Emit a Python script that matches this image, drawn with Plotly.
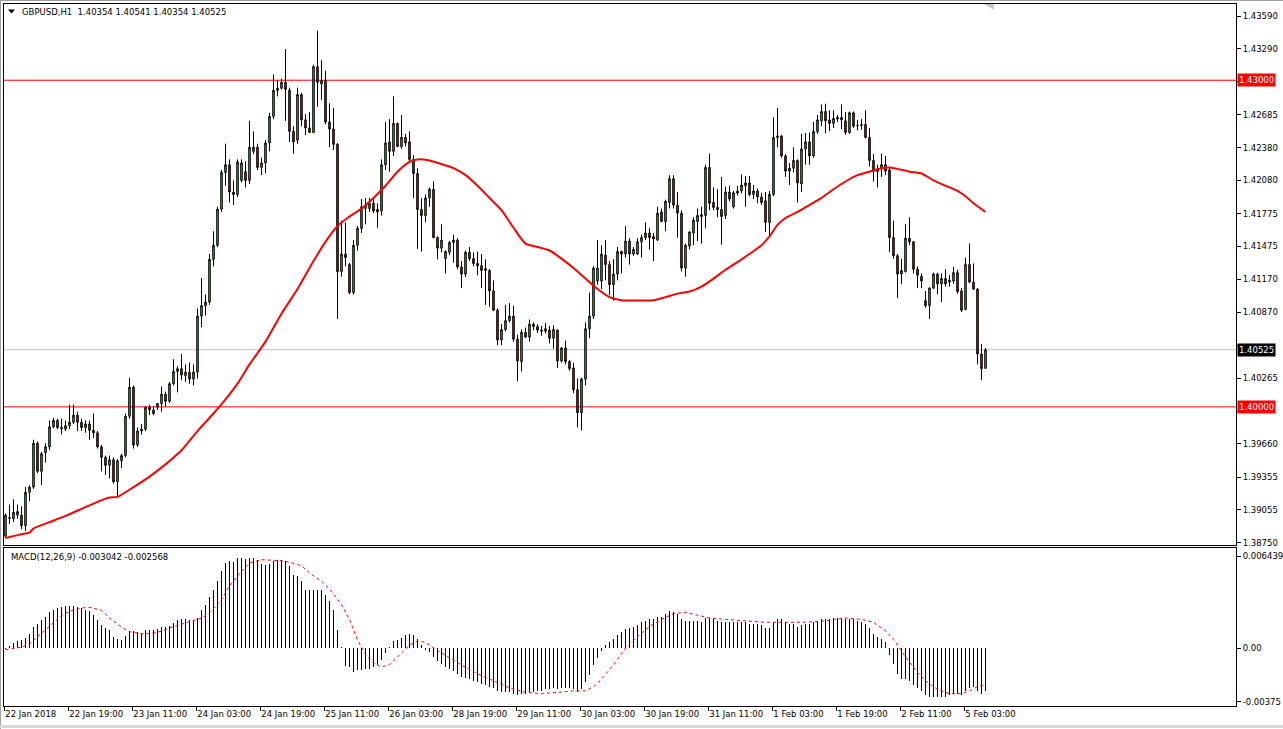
import plotly.graph_objects as go

# ---------------- data ----------------
x_labels = ["22 Jan 2018", "22 Jan 19:00", "23 Jan 11:00", "24 Jan 03:00", "24 Jan 19:00",
            "25 Jan 11:00", "26 Jan 03:00", "28 Jan 19:00", "29 Jan 11:00", "30 Jan 03:00",
            "30 Jan 19:00", "31 Jan 11:00", "1 Feb 03:00", "1 Feb 19:00", "2 Feb 11:00",
            "5 Feb 03:00"]
x_label_bars = [0, 16, 32, 48, 64, 80, 96, 112, 128, 144, 160, 176, 192, 208, 224, 240]

opens = [1.38812, 1.38975, 1.38973, 1.39006, 1.39006, 1.38909, 1.39215, 1.39263, 1.39666, 1.39408,
         1.39579, 1.39633, 1.39817, 1.39875, 1.39811, 1.39795, 1.39827, 1.39859, 1.39923, 1.39859,
         1.39811, 1.39843, 1.39785, 1.39762, 1.39633, 1.39537, 1.39463, 1.39514, 1.39312, 1.39505,
         1.39553, 1.39914, 1.40181, 1.39650, 1.39778, 1.39795, 1.39997, 1.39972, 1.39997, 1.40030,
         1.40117, 1.40052, 1.40213, 1.40325, 1.40351, 1.40287, 1.40319, 1.40255, 1.40319, 1.40834,
         1.40930, 1.40963, 1.41355, 1.41484, 1.41816, 1.42153, 1.42224, 1.41973, 1.41951, 1.42080,
         1.42160, 1.42080, 1.42347, 1.42385, 1.42199, 1.42240, 1.42424, 1.42668, 1.42907, 1.42926,
         1.42981, 1.42907, 1.42530, 1.42450, 1.42868, 1.42636, 1.42562, 1.42520, 1.43125, 1.42965,
         1.42997, 1.42617, 1.42553, 1.42411, 1.41243, 1.41404, 1.41307, 1.41050, 1.41484, 1.41639,
         1.41822, 1.41822, 1.41870, 1.41813, 1.41800, 1.42224, 1.42434, 1.42347, 1.42604, 1.42392,
         1.42475, 1.42434, 1.42273, 1.42144, 1.41813, 1.41758, 1.41919, 1.41999, 1.41555, 1.41458,
         1.41362, 1.41420, 1.41510, 1.41532, 1.41285, 1.41220, 1.41420, 1.41362, 1.41317, 1.41297,
         1.41252, 1.41252, 1.41065, 1.40888, 1.40615, 1.40711, 1.40792, 1.40834, 1.40622, 1.40416,
         1.40685, 1.40641, 1.40737, 1.40737, 1.40705, 1.40695, 1.40705, 1.40631, 1.40705, 1.40422,
         1.40541, 1.40416, 1.40357, 1.40158, 1.39946, 1.40255, 1.40718, 1.40834, 1.41156, 1.41156,
         1.41394, 1.41307, 1.41123, 1.41220, 1.41426, 1.41404, 1.41523, 1.41404, 1.41404, 1.41516,
         1.41555, 1.41597, 1.41565, 1.41532, 1.41790, 1.41703, 1.41877, 1.42096, 1.41854, 1.41780,
         1.41275, 1.41478, 1.41597, 1.41703, 1.41748, 1.41758, 1.42199, 1.41877, 1.41832, 1.41813,
         1.41758, 1.41973, 1.41838, 1.41964, 1.41983, 1.42031, 1.42057, 1.41951, 1.41983, 1.41928,
         1.41893, 1.41694, 1.41951, 1.42475, 1.42488, 1.42305, 1.42166, 1.42192, 1.42263, 1.42047,
         1.42369, 1.42434, 1.42305, 1.42530, 1.42627, 1.42713, 1.42636, 1.42604, 1.42643, 1.42659,
         1.42627, 1.42520, 1.42701, 1.42585, 1.42585, 1.42594, 1.42475, 1.42263, 1.42160, 1.42186,
         1.42224, 1.42176, 1.41555, 1.41388, 1.41220, 1.41243, 1.41549, 1.41516, 1.41265, 1.41200,
         1.40976, 1.40930, 1.41091, 1.41220, 1.41130, 1.41178, 1.41146, 1.41156, 1.41233, 1.41065,
         1.40895, 1.41307, 1.41146, 1.41082, 1.40486, 1.40354]

highs = [1.39022, 1.39102, 1.39151, 1.39102, 1.39086, 1.39263, 1.39279, 1.39698, 1.39682, 1.39585,
         1.39666, 1.39875, 1.39900, 1.39891, 1.39891, 1.39875, 1.40020, 1.40020, 1.39955, 1.39891,
         1.39875, 1.39875, 1.39939, 1.39778, 1.39650, 1.39553, 1.39553, 1.39537, 1.39521, 1.39569,
         1.39939, 1.40268, 1.40197, 1.39811, 1.39843, 1.40004, 1.40020, 1.40004, 1.40036, 1.40187,
         1.40139, 1.40229, 1.40438, 1.40373, 1.40486, 1.40390, 1.40406, 1.40390, 1.40905, 1.41184,
         1.41033, 1.41404, 1.41613, 1.41838, 1.42176, 1.42417, 1.42273, 1.42080, 1.42273, 1.42273,
         1.42256, 1.42627, 1.42530, 1.42417, 1.42289, 1.42450, 1.42701, 1.43055, 1.42997, 1.43013,
         1.43286, 1.42932, 1.42578, 1.42932, 1.42884, 1.42691, 1.42707, 1.43142, 1.43454, 1.43183,
         1.43087, 1.42788, 1.42746, 1.42424, 1.41710, 1.41694, 1.41323, 1.41532, 1.41661, 1.41909,
         1.41919, 1.41919, 1.41909, 1.41870, 1.42273, 1.42617, 1.42643, 1.42852, 1.42610, 1.42681,
         1.42507, 1.42530, 1.42314, 1.42192, 1.41919, 1.41951, 1.42015, 1.42070, 1.41565, 1.41677,
         1.41436, 1.41523, 1.41581, 1.41549, 1.41339, 1.41436, 1.41468, 1.41420, 1.41426, 1.41404,
         1.41355, 1.41265, 1.41162, 1.40904, 1.40760, 1.40937, 1.40953, 1.40930, 1.40663, 1.40711,
         1.40728, 1.40802, 1.40776, 1.40760, 1.40744, 1.40769, 1.40744, 1.40750, 1.40711, 1.40550,
         1.40609, 1.40429, 1.40406, 1.40261, 1.40268, 1.40776, 1.41050, 1.41291, 1.41532, 1.41484,
         1.41532, 1.41339, 1.41355, 1.41468, 1.41436, 1.41661, 1.41549, 1.41468, 1.41549, 1.41581,
         1.41694, 1.41645, 1.41597, 1.41838, 1.41822, 1.41903, 1.42128, 1.42128, 1.41973, 1.41806,
         1.41500, 1.41613, 1.41742, 1.41822, 1.41838, 1.42224, 1.42327, 1.42015, 1.41999, 1.42112,
         1.42024, 1.42031, 1.41983, 1.42031, 1.42134, 1.42121, 1.42121, 1.42037, 1.42005, 1.41967,
         1.41973, 1.41983, 1.42659, 1.42746, 1.42498, 1.42321, 1.42240, 1.42385, 1.42273, 1.42507,
         1.42514, 1.42520, 1.42617, 1.42681, 1.42778, 1.42784, 1.42723, 1.42723, 1.42681, 1.42778,
         1.42707, 1.42713, 1.42713, 1.42636, 1.42643, 1.42723, 1.42562, 1.42321, 1.42224, 1.42327,
         1.42305, 1.42199, 1.41710, 1.41404, 1.41362, 1.41677, 1.41742, 1.41523, 1.41291, 1.41226,
         1.41065, 1.41098, 1.41233, 1.41233, 1.41226, 1.41265, 1.41210, 1.41285, 1.41259, 1.41091,
         1.41372, 1.41500, 1.41317, 1.41091, 1.40576, 1.40541]

lows = [1.38796, 1.38925, 1.38941, 1.38973, 1.38877, 1.38861, 1.39134, 1.39247, 1.39392, 1.39279,
        1.39488, 1.39601, 1.39804, 1.39795, 1.39746, 1.39778, 1.39795, 1.39843, 1.39778, 1.39778,
        1.39762, 1.39698, 1.39714, 1.39617, 1.39408, 1.39376, 1.39344, 1.39295, 1.39183, 1.39440,
        1.39537, 1.39891, 1.39617, 1.39633, 1.39746, 1.39778, 1.39923, 1.39923, 1.39972, 1.39955,
        1.40004, 1.40036, 1.40197, 1.40133, 1.40245, 1.40229, 1.40213, 1.40197, 1.40261, 1.40731,
        1.40840, 1.40937, 1.41291, 1.41468, 1.41790, 1.42031, 1.41877, 1.41854, 1.41928, 1.42063,
        1.42015, 1.42047, 1.42321, 1.42176, 1.42128, 1.42144, 1.42347, 1.42643, 1.42852, 1.42916,
        1.42627, 1.42434, 1.42327, 1.42417, 1.42578, 1.42498, 1.42514, 1.42514, 1.42755, 1.42820,
        1.42594, 1.42385, 1.42359, 1.40808, 1.41194, 1.41291, 1.41033, 1.41033, 1.41436, 1.41597,
        1.41677, 1.41790, 1.41780, 1.41645, 1.41758, 1.42176, 1.42160, 1.42305, 1.42385, 1.42369,
        1.42392, 1.42256, 1.41919, 1.41452, 1.41426, 1.41694, 1.41838, 1.41549, 1.41355, 1.41420,
        1.41226, 1.41394, 1.41323, 1.41265, 1.41091, 1.41194, 1.41339, 1.41291, 1.41210, 1.41091,
        1.40937, 1.40921, 1.40879, 1.40566, 1.40566, 1.40695, 1.40776, 1.40599, 1.40236, 1.40325,
        1.40631, 1.40599, 1.40705, 1.40679, 1.40654, 1.40673, 1.40583, 1.40534, 1.40357, 1.40406,
        1.40390, 1.40332, 1.40126, 1.39811, 1.39785, 1.40197, 1.40631, 1.40808, 1.41123, 1.41082,
        1.41162, 1.41027, 1.40976, 1.41162, 1.41226, 1.41372, 1.41307, 1.41388, 1.41394, 1.41372,
        1.41532, 1.41446, 1.41339, 1.41523, 1.41694, 1.41613, 1.41822, 1.41822, 1.41555, 1.41243,
        1.41194, 1.41446, 1.41484, 1.41523, 1.41500, 1.41639, 1.41806, 1.41806, 1.41742, 1.41490,
        1.41726, 1.41887, 1.41822, 1.41941, 1.41961, 1.41838, 1.41935, 1.41909, 1.41870, 1.41854,
        1.41606, 1.41565, 1.41935, 1.42385, 1.42289, 1.42112, 1.42037, 1.42153, 1.41877, 1.41973,
        1.42224, 1.42224, 1.42289, 1.42507, 1.42578, 1.42514, 1.42530, 1.42562, 1.42617, 1.42553,
        1.42498, 1.42507, 1.42562, 1.42540, 1.42546, 1.42466, 1.42208, 1.42070, 1.42015, 1.42112,
        1.42128, 1.41420, 1.41362, 1.40999, 1.41130, 1.41233, 1.41484, 1.41226, 1.41091, 1.41091,
        1.40911, 1.40808, 1.41082, 1.41033, 1.40963, 1.41104, 1.41104, 1.41130, 1.41040, 1.40872,
        1.40888, 1.41137, 1.41072, 1.40390, 1.40245, 1.40354]

closes = [1.39006, 1.38985, 1.39031, 1.39038, 1.38909, 1.39215, 1.39263, 1.39666, 1.39408, 1.39569,
          1.39633, 1.39817, 1.39875, 1.39811, 1.39800, 1.39827, 1.39859, 1.39923, 1.39859, 1.39811,
          1.39843, 1.39785, 1.39762, 1.39633, 1.39537, 1.39463, 1.39514, 1.39312, 1.39505, 1.39553,
          1.39914, 1.40181, 1.39650, 1.39778, 1.39795, 1.39997, 1.39972, 1.39939, 1.40030, 1.40117,
          1.40052, 1.40213, 1.40325, 1.40351, 1.40293, 1.40319, 1.40255, 1.40319, 1.40834, 1.40930,
          1.40963, 1.41355, 1.41484, 1.41816, 1.42153, 1.42224, 1.41973, 1.41951, 1.42250, 1.42240,
          1.42080, 1.42385, 1.42385, 1.42199, 1.42240, 1.42424, 1.42668, 1.42907, 1.42926, 1.42981,
          1.42916, 1.42530, 1.42434, 1.42868, 1.42636, 1.42562, 1.42520, 1.43125, 1.42981, 1.42997,
          1.42617, 1.42553, 1.42411, 1.41243, 1.41404, 1.41372, 1.41050, 1.41484, 1.41639, 1.41838,
          1.41854, 1.41870, 1.41800, 1.41790, 1.42224, 1.42424, 1.42347, 1.42604, 1.42392, 1.42475,
          1.42424, 1.42273, 1.42144, 1.41813, 1.41758, 1.41919, 1.41999, 1.41555, 1.41458, 1.41532,
          1.41426, 1.41510, 1.41532, 1.41285, 1.41220, 1.41420, 1.41362, 1.41317, 1.41297, 1.41252,
          1.41270, 1.41065, 1.40888, 1.40615, 1.40711, 1.40792, 1.40834, 1.40622, 1.40422, 1.40685,
          1.40641, 1.40760, 1.40760, 1.40705, 1.40695, 1.40718, 1.40631, 1.40711, 1.40422, 1.40541,
          1.40416, 1.40351, 1.40158, 1.39946, 1.40255, 1.40718, 1.40834, 1.41275, 1.41275, 1.41404,
          1.41307, 1.41123, 1.41220, 1.41426, 1.41404, 1.41523, 1.41404, 1.41446, 1.41516, 1.41555,
          1.41597, 1.41555, 1.41542, 1.41780, 1.41703, 1.41887, 1.42096, 1.41854, 1.41780, 1.41275,
          1.41484, 1.41606, 1.41716, 1.41758, 1.41767, 1.42199, 1.41870, 1.41832, 1.41813, 1.41748,
          1.41973, 1.41909, 1.41967, 1.41983, 1.42037, 1.42057, 1.41951, 1.41983, 1.41928, 1.41877,
          1.41694, 1.41951, 1.42475, 1.42488, 1.42305, 1.42166, 1.42192, 1.42263, 1.42057, 1.42369,
          1.42434, 1.42305, 1.42530, 1.42636, 1.42713, 1.42627, 1.42604, 1.42649, 1.42659, 1.42636,
          1.42520, 1.42701, 1.42578, 1.42582, 1.42594, 1.42475, 1.42263, 1.42166, 1.42186, 1.42224,
          1.42166, 1.41555, 1.41388, 1.41220, 1.41252, 1.41549, 1.41516, 1.41265, 1.41210, 1.41156,
          1.40930, 1.41091, 1.41220, 1.41130, 1.41178, 1.41130, 1.41162, 1.41233, 1.41059, 1.40888,
          1.41307, 1.41146, 1.41082, 1.40486, 1.40351, 1.40525]

# moving average (red line), sampled at these bars
ma_bars = [0, 3, 5, 6, 7, 11, 15, 19, 23, 26, 28, 32, 36, 40, 44, 48, 52, 55, 58, 61, 65, 69, 73,
           77, 80, 83, 86, 89, 92, 95, 98, 101, 103, 106, 109, 112, 115, 118, 121, 124, 127, 130,
           133, 136, 139, 142, 145, 148, 151, 154, 158, 162, 165, 168, 171, 174, 177, 180, 183,
           186, 189, 191, 193, 195, 198, 201, 204, 207, 210, 213, 216, 219, 221, 223, 226, 229,
           232, 235, 238, 240, 242, 245]
ma_values = [1.38796, 1.38822, 1.38838, 1.38845, 1.38883, 1.38941, 1.38999, 1.39063, 1.39128,
             1.39167, 1.39173, 1.39263, 1.39360, 1.39472, 1.39601, 1.39778, 1.39939, 1.40068,
             1.40213, 1.40390, 1.40599, 1.40856, 1.41082, 1.41339, 1.41516, 1.41661, 1.41748,
             1.41822, 1.41919, 1.42031, 1.42160, 1.42250, 1.42273, 1.42263, 1.42231, 1.42192,
             1.42128, 1.42031, 1.41919, 1.41806, 1.41645, 1.41500, 1.41468, 1.41436, 1.41362,
             1.41275, 1.41178, 1.41082, 1.41008, 1.40979, 1.40976, 1.40979, 1.41008, 1.41040,
             1.41059, 1.41104, 1.41178, 1.41259, 1.41330, 1.41404, 1.41484, 1.41565, 1.41671,
             1.41735, 1.41790, 1.41854, 1.41919, 1.41999, 1.42070, 1.42128, 1.42160, 1.42192,
             1.42199, 1.42186, 1.42160, 1.42144, 1.42080, 1.42031, 1.41983, 1.41935, 1.41870,
             1.41790]

macd_hist = [-0.00005, 0.00016, 0.00035, 0.00051, 0.00054, 0.00070, 0.00100, 0.00147, 0.00170, 0.00194,
             0.00217, 0.00250, 0.00268, 0.00280, 0.00287, 0.00292, 0.00296, 0.00296, 0.00287, 0.00280,
             0.00268, 0.00257, 0.00233, 0.00198, 0.00163, 0.00140, 0.00124, 0.00077, 0.00063, 0.00058,
             0.00086, 0.00117, 0.00117, 0.00110, 0.00105, 0.00124, 0.00128, 0.00128, 0.00133, 0.00147,
             0.00147, 0.00156, 0.00175, 0.00194, 0.00203, 0.00203, 0.00198, 0.00198, 0.00210, 0.00268,
             0.00303, 0.00357, 0.00408, 0.00467, 0.00537, 0.00595, 0.00607, 0.00600, 0.00630, 0.00630,
             0.00623, 0.00630, 0.00630, 0.00618, 0.00590, 0.00583, 0.00590, 0.00607, 0.00614, 0.00614,
             0.00607, 0.00572, 0.00513, 0.00502, 0.00467, 0.00408, 0.00408, 0.00408, 0.00408, 0.00408,
             0.00373, 0.00327, 0.00268, 0.00128, 0.00002, -0.00128, -0.00133, -0.00170, -0.00156, -0.00152,
             -0.00147, -0.00147, -0.00133, -0.00117, -0.00082, -0.00035, 0.00002, 0.00047, 0.00058, 0.00070,
             0.00090, 0.00100, 0.00090, 0.00060, 0.00020, -0.00010, -0.00030, -0.00060, -0.00090, -0.00110,
             -0.00130, -0.00150, -0.00160, -0.00180, -0.00200, -0.00210, -0.00220, -0.00230, -0.00240, -0.00250,
             -0.00260, -0.00270, -0.00280, -0.00300, -0.00310, -0.00310, -0.00310, -0.00320, -0.00330, -0.00320,
             -0.00320, -0.00310, -0.00310, -0.00300, -0.00300, -0.00290, -0.00290, -0.00280, -0.00290, -0.00280,
             -0.00280, -0.00280, -0.00290, -0.00310, -0.00290, -0.00240, -0.00190, -0.00120, -0.00070, -0.00020,
             0.00020, 0.00040, 0.00060, 0.00090, 0.00110, 0.00130, 0.00140, 0.00150, 0.00160, 0.00180,
             0.00190, 0.00200, 0.00200, 0.00220, 0.00220, 0.00240, 0.00260, 0.00250, 0.00240, 0.00200,
             0.00190, 0.00190, 0.00190, 0.00190, 0.00180, 0.00210, 0.00210, 0.00200, 0.00190, 0.00180,
             0.00180, 0.00180, 0.00180, 0.00180, 0.00180, 0.00180, 0.00170, 0.00170, 0.00170, 0.00160,
             0.00140, 0.00140, 0.00180, 0.00200, 0.00200, 0.00180, 0.00170, 0.00170, 0.00150, 0.00160,
             0.00170, 0.00170, 0.00180, 0.00190, 0.00200, 0.00200, 0.00200, 0.00210, 0.00210, 0.00210,
             0.00200, 0.00200, 0.00200, 0.00190, 0.00180, 0.00170, 0.00140, 0.00100, 0.00080, 0.00060,
             0.00040, -0.00050, -0.00110, -0.00180, -0.00220, -0.00220, -0.00230, -0.00260, -0.00280, -0.00300,
             -0.00330, -0.00340, -0.00340, -0.00340, -0.00340, -0.00340, -0.00330, -0.00320, -0.00320, -0.00330,
             -0.00300, -0.00280, -0.00270, -0.00300, -0.00320, -0.003042]

signal_bars = [0, 4, 6, 9, 11, 14, 16, 19, 21, 24, 26, 29, 31, 34, 36, 39, 41, 44, 46, 49, 51, 54,
               56, 59, 61, 64, 66, 69, 71, 74, 76, 79, 81, 84, 86, 88, 90, 92, 94, 96, 98, 101,
               103, 105, 107, 110, 114, 118, 122, 126, 130, 134, 138, 142, 145, 147, 149, 151,
               153, 155, 158, 161, 164, 167, 170, 173, 176, 180, 185, 190, 195, 200, 205, 210,
               214, 217, 220, 222, 224, 226, 228, 230, 233, 236, 239, 241, 243, 245]
signal_values = [-0.00012, 0.00005, 0.00030, 0.00105, 0.00156, 0.00226, 0.00257, 0.00280, 0.00285,
                 0.00264, 0.00210, 0.00147, 0.00114, 0.00100, 0.00100, 0.00117, 0.00140, 0.00168,
                 0.00184, 0.00208, 0.00245, 0.00338, 0.00436, 0.00537, 0.00595, 0.00618, 0.00614,
                 0.00611, 0.00600, 0.00576, 0.00525, 0.00467, 0.00413, 0.00303, 0.00198, 0.00058,
                 -0.00047, -0.00105, -0.00133, -0.00117, -0.00063, 0.00020, 0.00050, 0.00040,
                 0.00000, -0.00050, -0.00120, -0.00180, -0.00230, -0.00280, -0.00310, -0.00320,
                 -0.00310, -0.00300, -0.00300, -0.00270, -0.00220, -0.00150, -0.00080, 0.00000,
                 0.00080, 0.00150, 0.00200, 0.00240, 0.00250, 0.00230, 0.00210, 0.00200, 0.00190,
                 0.00180, 0.00180, 0.00180, 0.00190, 0.00210, 0.00200, 0.00180, 0.00120, 0.00060,
                 -0.00020, -0.00100, -0.00170, -0.00230, -0.00290, -0.00320, -0.00320, -0.00300,
                 -0.00270, -0.002568]

main_ticks = [1.43590, 1.43290, 1.42985, 1.42685, 1.42380, 1.42080, 1.41775, 1.41475, 1.41170,
              1.40870, 1.40565, 1.40265, 1.39960, 1.39660, 1.39355, 1.39055, 1.38750]
hidden_ticks = [1.42985, 1.40565, 1.39960]   # covered by the price labels in the picture
macd_ticks = [0.006439, 0.0, -0.00375]
macd_tick_text = ["0.006439", "0.00", "-0.00375"]
level_lines = [1.43000, 1.40000]
bid_price = 1.40525

# ---------------- layout geometry ----------------
W, H = 1283, 729
L, R, T, B = 4, 47, 4, 23
PW, PH = W - L - R, H - T - B


def px(xp):
    return (xp - L) / PW


def py(yp):
    return (H - B - yp) / PH


FONT = "DejaVu Sans"
FS = 8.5
bars_idx = list(range(len(closes)))

fig = go.Figure()

fig.add_trace(go.Candlestick(
    x=bars_idx, open=opens, high=highs, low=lows, close=closes,
    xaxis="x2", yaxis="y",
    increasing=dict(line=dict(color="black", width=1), fillcolor="#32CD32"),
    decreasing=dict(line=dict(color="black", width=1), fillcolor="#FF0000"),
    whiskerwidth=0, showlegend=False, hoverinfo="skip"))

fig.add_trace(go.Scatter(x=ma_bars, y=ma_values, xaxis="x2", yaxis="y", mode="lines",
                         line=dict(color="#FF0000", width=2, shape="spline", smoothing=0.6),
                         showlegend=False, hoverinfo="skip"))

fig.add_trace(go.Bar(x=bars_idx, y=macd_hist, xaxis="x", yaxis="y2", width=0.25,
                     marker=dict(color="black", line=dict(width=0)), showlegend=False,
                     hoverinfo="skip"))
fig.add_trace(go.Scatter(x=signal_bars, y=signal_values, xaxis="x", yaxis="y2", mode="lines",
                         line=dict(color="#FF0000", width=1, dash="dot"), showlegend=False,
                         hoverinfo="skip"))

# bar i centred on pixel column 5.5 + 4 i
xr = [(L - 5.5) / 4.0, (W - R - 5.5) / 4.0]
main_top, main_bot = 4, 545
macd_top, macd_bot = 548, 706

shapes = []
for lv in level_lines:
    shapes.append(dict(type="line", xref="x2 domain", x0=0, x1=1, yref="y", y0=lv, y1=lv,
                       line=dict(color="#FF0000", width=1), layer="below"))
shapes.append(dict(type="line", xref="x2 domain", x0=0, x1=1, yref="y", y0=bid_price, y1=bid_price,
                   line=dict(color="#C0C0C0", width=1), layer="below"))
# title triangle
shapes.append(dict(type="path", xref="paper", yref="paper",
                   path=f"M {px(8)} {py(9.5)} L {px(15)} {py(9.5)} L {px(11.5)} {py(13.5)} Z",
                   fillcolor="black", line=dict(width=0)))
# chart shift marker
shapes.append(dict(type="path", xref="paper", yref="paper",
                   path=f"M {px(984)} {py(4)} L {px(994)} {py(4)} L {px(994)} {py(10)} Z",
                   fillcolor="#C8C8C8", line=dict(width=0)))
# window frame
shapes.append(dict(type="line", xref="paper", yref="paper", x0=px(0.5), x1=px(0.5), y0=py(0), y1=py(729),
                   line=dict(color="#A0A0A0", width=1)))
shapes.append(dict(type="line", xref="paper", yref="paper", x0=px(0), x1=px(1283), y0=py(0.5), y1=py(0.5),
                   line=dict(color="#A0A0A0", width=1)))
shapes.append(dict(type="line", xref="paper", yref="paper", x0=px(0), x1=px(1283), y0=py(726.5), y1=py(726.5),
                   line=dict(color="#D8D8D8", width=3)))

annotations = [
    dict(text="GBPUSD,H1  1.40354 1.40541 1.40354 1.40525", xref="paper", yref="paper",
         x=px(20), y=py(12), xanchor="left", yanchor="middle", showarrow=False,
         font=dict(family=FONT, size=FS, color="black")),
    dict(text="MACD(12,26,9) -0.003042 -0.002568", xref="paper", yref="paper",
         x=px(9), y=py(557), xanchor="left", yanchor="middle", showarrow=False,
         font=dict(family=FONT, size=FS, color="black")),
]
for lv, bg in [(level_lines[0], "#FF0000"), (level_lines[1], "#FF0000"), (bid_price, "black")]:
    annotations.append(dict(text=f"{lv:.5f}", xref="paper", yref="y", x=1, y=lv, xanchor="left",
                            yanchor="middle", xshift=1, showarrow=False, bgcolor=bg,
                            borderpad=1, font=dict(family=FONT, size=FS, color="white")))

fig.update_layout(
    width=W, height=H, margin=dict(l=L, r=R, t=T, b=B, autoexpand=False),
    paper_bgcolor="white", plot_bgcolor="white",
    boxgap=0.45, bargap=0, showlegend=False,
    shapes=shapes, annotations=annotations,
    xaxis=dict(domain=[0, 1], anchor="y2", range=xr, showgrid=False, zeroline=False,
               showline=True, mirror=True, linecolor="black", linewidth=1,
               tickmode="array", tickvals=[b - 0.3 for b in x_label_bars], ticktext=x_labels,
               ticks="outside", ticklen=4, tickcolor="black", ticklabelposition="outside right",
               tickfont=dict(family=FONT, size=FS, color="black"), fixedrange=True),
    xaxis2=dict(domain=[0, 1], anchor="y", matches="x", showgrid=False, zeroline=False,
                showline=True, mirror=True, linecolor="black", linewidth=1,
                showticklabels=False, ticks="", rangeslider=dict(visible=False)),
    yaxis=dict(domain=[py(main_bot), py(main_top)], anchor="x2", side="right",
               range=[1.43590 - (main_bot - 16) / 10888.0, 1.43590 + (16 - main_top) / 10888.0],
               showgrid=False, zeroline=False, showline=True, mirror=True, linecolor="black",
               linewidth=1, tickmode="array", tickvals=main_ticks,
               ticktext=["" if v in hidden_ticks else f"{v:.5f}" for v in main_ticks],
               ticks="outside", ticklen=4,
               tickcolor="black", tickfont=dict(family=FONT, size=FS, color="black")),
    yaxis2=dict(domain=[py(macd_bot), py(macd_top)], anchor="x", side="right",
                range=[-(macd_bot - 648) / 14288.0, (648 - macd_top) / 14288.0],
                showgrid=False, zeroline=False, showline=True, mirror=True, linecolor="black",
                linewidth=1, tickmode="array", tickvals=macd_ticks, ticktext=macd_tick_text,
                ticks="outside", ticklen=4, tickcolor="black",
                tickfont=dict(family=FONT, size=FS, color="black")),
)

fig.write_html("out.html", config={"displayModeBar": False},
               post_script="document.body.style.margin='0';document.body.style.padding='0';")
